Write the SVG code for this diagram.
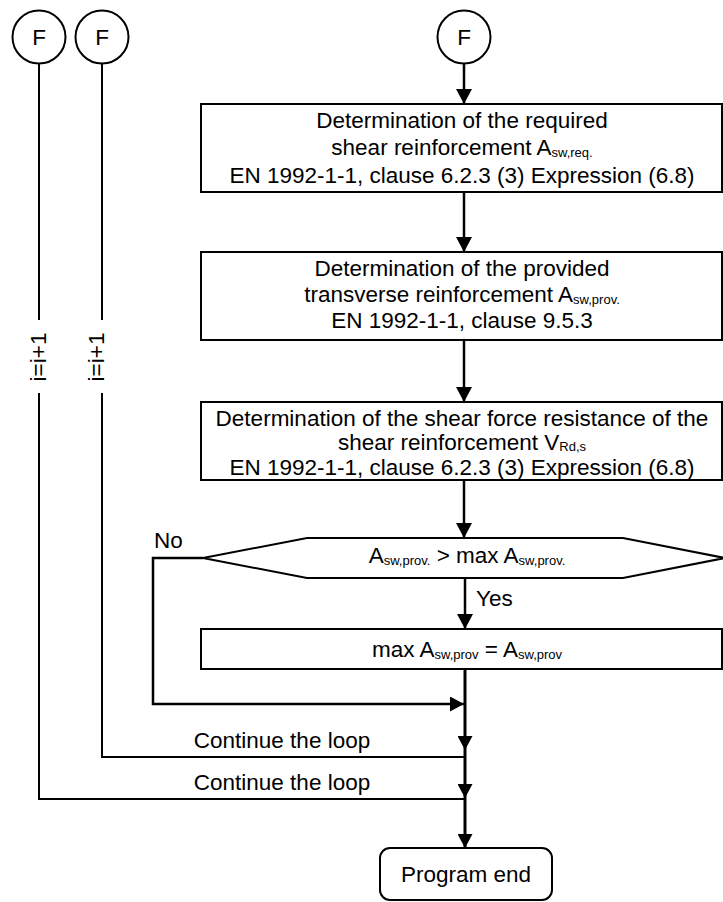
<svg xmlns="http://www.w3.org/2000/svg" width="723" height="902" viewBox="0 0 723 902">
<style>
.box{fill:#fff;stroke:#000;stroke-width:2}
.t{font-family:"Liberation Sans",Arial,sans-serif;font-size:22.5px;fill:#000}
.c{text-anchor:middle}
.s{font-size:13px}
.ln{fill:none;stroke:#000;stroke-width:2.5}
.lt{fill:none;stroke:#000;stroke-width:2}
</style>
<defs>
<marker id="ah" markerWidth="16" markerHeight="16" refX="15" refY="8" orient="auto" markerUnits="userSpaceOnUse"><path d="M0,0 L15,8 L0,16 z" fill="#000"/></marker>
<marker id="ah2" markerWidth="15" markerHeight="15" refX="14" refY="7.5" orient="auto" markerUnits="userSpaceOnUse"><path d="M0,0 L14,7.5 L0,15 z" fill="#000"/></marker>
</defs>
<rect width="723" height="902" fill="#fff"/>

<g id="connectors">
<path class="lt" d="M39,63 V320 M39,393 V799 H465"/>
<path class="lt" d="M102,63 V320 M102,393 V757 H465"/>
<path class="ln" d="M464,63 V104" marker-end="url(#ah)"/>
<path class="ln" d="M464,192 V252" marker-end="url(#ah)"/>
<path class="ln" d="M464,340 V402" marker-end="url(#ah)"/>
<path class="ln" d="M464,480 V538" marker-end="url(#ah)"/>
<path class="ln" d="M465,578 V629" marker-end="url(#ah)"/>
<path class="ln" d="M203,558 H153 V704 H464" marker-end="url(#ah2)"/>
<path class="ln" style="stroke-width:3" d="M465,669 V750" marker-end="url(#ah2)"/>
<path class="ln" style="stroke-width:3" d="M465,750 V798" marker-end="url(#ah2)"/>
<path class="ln" style="stroke-width:3" d="M465,798 V848" marker-end="url(#ah2)"/>
<text class="t" x="154" y="548">No</text>
<text class="t" x="476" y="606">Yes</text>
<text class="t c" x="282" y="748">Continue the loop</text>
<text class="t c" x="282" y="790">Continue the loop</text>
<text class="t c" transform="translate(46,357) rotate(-90)">i=i+1</text>
<text class="t c" transform="translate(104,357) rotate(-90)">i=i+1</text>
</g>

<g id="f1"><circle class="box" cx="39" cy="37" r="26.5"/><text class="t c" x="39" y="45">F</text></g>
<g id="f2"><circle class="box" cx="102" cy="37" r="26.5"/><text class="t c" x="102" y="45">F</text></g>
<g id="f3"><circle class="box" cx="464" cy="37" r="26.5"/><text class="t c" x="464" y="45">F</text></g>

<g id="req">
<rect class="box" x="201" y="104" width="521" height="88"/>
<text class="t c" x="462" y="128">Determination of the required</text>
<text class="t c" x="462" y="155">shear reinforcement A<tspan class="s" dy="1.5">sw,req.</tspan></text>
<text class="t c" x="462" y="183">EN 1992-1-1, clause 6.2.3 (3) Expression (6.8)</text>
</g>

<g id="prov">
<rect class="box" x="201" y="252" width="521" height="88"/>
<text class="t c" x="462" y="276">Determination of the provided</text>
<text class="t c" x="462" y="302">transverse reinforcement A<tspan class="s" dy="1.5">sw,prov.</tspan></text>
<text class="t c" x="462" y="328">EN 1992-1-1, clause 9.5.3</text>
</g>

<g id="vrds">
<rect class="box" x="201" y="402" width="521" height="78"/>
<text class="t c" x="462" y="426">Determination of the shear force resistance of the</text>
<text class="t c" x="462" y="450">shear reinforcement V<tspan class="s" dy="1">Rd,s</tspan></text>
<text class="t c" x="462" y="475">EN 1992-1-1, clause 6.2.3 (3) Expression (6.8)</text>
</g>

<g id="cond">
<polygon class="box" points="203,558 307,538 623,538 725,558 623,578 307,578"/>
<text class="t c" x="467" y="563">A<tspan class="s" dy="1.5">sw,prov.</tspan><tspan dy="-1.5"> &gt; max A</tspan><tspan class="s" dy="1.5">sw,prov.</tspan></text>
</g>

<g id="setmax">
<rect class="box" x="201" y="629" width="521" height="40"/>
<text class="t c" x="467" y="657">max A<tspan class="s" dy="1.5">sw,prov</tspan><tspan dy="-1.5"> = A</tspan><tspan class="s" dy="1.5">sw,prov</tspan></text>
</g>

<g id="end">
<rect class="box" x="380" y="848" width="172" height="52" rx="10"/>
<text class="t c" x="466" y="882">Program end</text>
</g>
</svg>
